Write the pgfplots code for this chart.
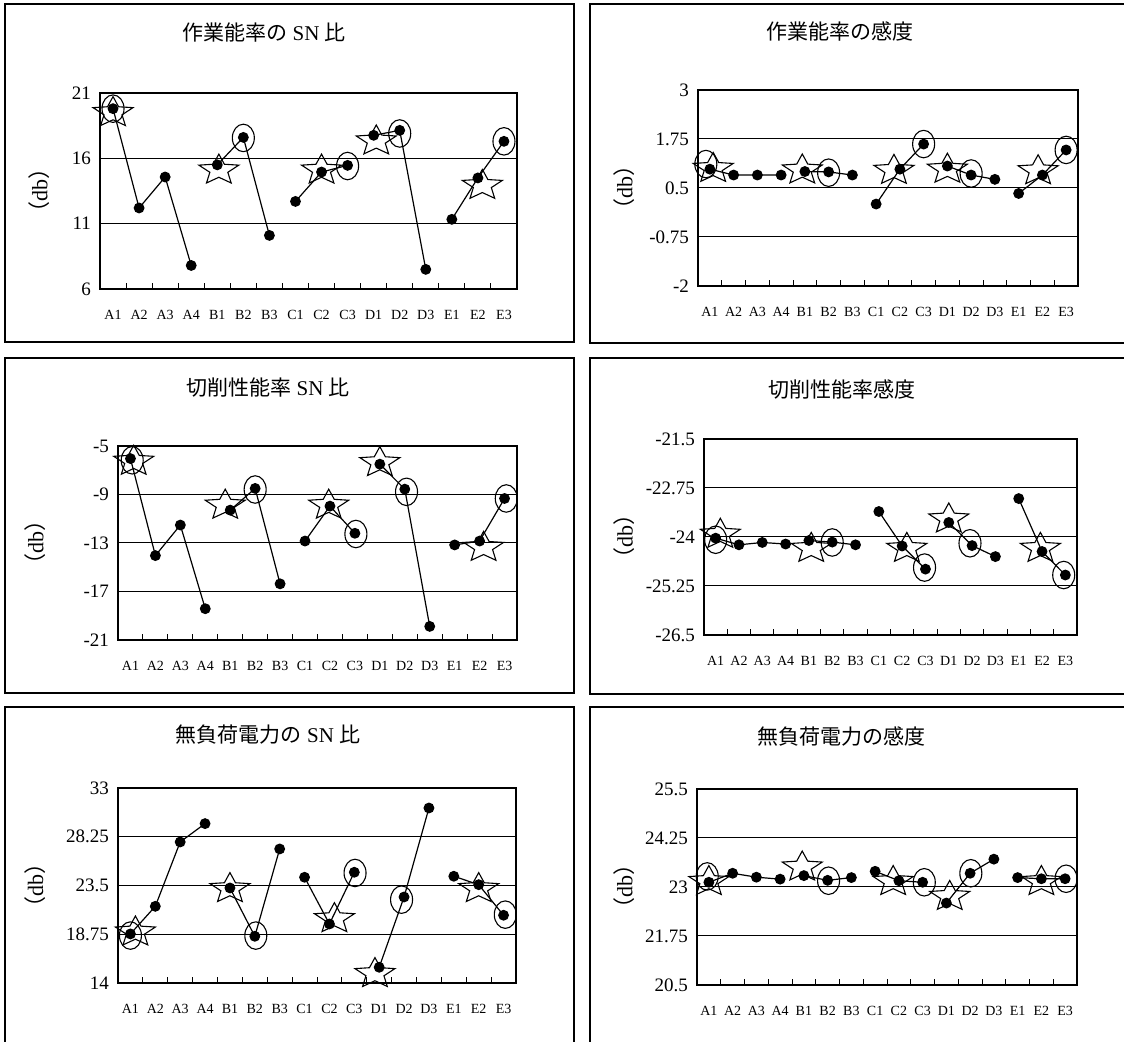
\documentclass[border=0pt]{standalone}
\usepackage{pgfplots}
\usepackage{pgfplotstable}
\pgfplotsset{compat=1.18}
\usepackage{fontspec}
\setmainfont{Liberation Serif}
\newfontfamily\cjk{Noto Sans CJK JP}

% open five-point star, flattened (x radius = mark size, y radius = 0.76 of it)
\pgfdeclareplotmark{ostar}{%
  \pgfpathmoveto{\pgfpoint{0pt}{0.76\pgfplotmarksize}}%
  \pgfpathlineto{\pgfpoint{-0.2645\pgfplotmarksize}{0.2774\pgfplotmarksize}}%
  \pgfpathlineto{\pgfpoint{-0.9511\pgfplotmarksize}{0.2348\pgfplotmarksize}}%
  \pgfpathlineto{\pgfpoint{-0.4280\pgfplotmarksize}{-0.1060\pgfplotmarksize}}%
  \pgfpathlineto{\pgfpoint{-0.5878\pgfplotmarksize}{-0.6148\pgfplotmarksize}}%
  \pgfpathlineto{\pgfpoint{0pt}{-0.343\pgfplotmarksize}}%
  \pgfpathlineto{\pgfpoint{0.5878\pgfplotmarksize}{-0.6148\pgfplotmarksize}}%
  \pgfpathlineto{\pgfpoint{0.4280\pgfplotmarksize}{-0.1060\pgfplotmarksize}}%
  \pgfpathlineto{\pgfpoint{0.9511\pgfplotmarksize}{0.2348\pgfplotmarksize}}%
  \pgfpathlineto{\pgfpoint{0.2645\pgfplotmarksize}{0.2774\pgfplotmarksize}}%
  \pgfpathclose
  \pgfusepathqstroke
}
% open ellipse, a bit taller than wide
\pgfdeclareplotmark{oell}{%
  \pgfpathellipse{\pgfpointorigin}{\pgfpoint{\pgfplotmarksize}{0pt}}{\pgfpoint{0pt}{1.25\pgfplotmarksize}}%
  \pgfusepathqstroke
}

% ticks sit between categories (x = -0.5, 0.5, ...); each label is moved
% half a category to the right so it stands under its point
\pgfplotsset{
  panel/.style={
    scale only axis, anchor=south west,
    xmin=-0.5, xmax=15.5,
    xtick={-0.5,0.5,...,14.5},
    xticklabels={A1,A2,A3,A4,B1,B2,B3,C1,C2,C3,D1,D2,D3,E1,E2,E3},
    major tick length=3pt,
    tick style={draw=black, line width=0.5pt},
    xtick pos=left, ytick pos=left,
    ymajorgrids, grid style={black, line width=0.5pt},
    axis line style={line width=0.6pt},
    xticklabel style={font=\fontsize{7}{8}\selectfont, yshift=-7pt},
    yticklabel style={font=\fontsize{9.5}{10}\selectfont, xshift=-1pt},
    ylabel={{\cjk （}db{\cjk ）}},
    label style={font=\fontsize{11}{12}\selectfont},
    clip=false,
  },
  dots/.style={black, line width=0.6pt, mark=*, mark size=2.4pt, unbounded coords=jump},
  stars/.style={black, only marks, mark=ostar, mark size=10.5pt, mark options={line width=0.55pt}},
  rings/.style={black, only marks, mark=oell, mark size=5.5pt, mark options={line width=0.55pt}},
}

\pgfplotstableread{
x y
0 19.8
1 12.2
2 14.57
3 7.8
3.5 nan
4 15.5
5 17.6
6 10.1
6.5 nan
7 12.7
8 14.95
9 15.46
9.5 nan
10 17.76
11 18.14
12 7.5
12.5 nan
13 11.33
14 14.5
15 17.3
}\sagyoSN

\pgfplotstableread{
x y
0 0.98
1 0.83
2 0.83
3 0.83
3.5 nan
4 0.92
5 0.91
6 0.83
6.5 nan
7 0.09
8 0.98
9 1.62
9.5 nan
10 1.06
11 0.83
12 0.72
12.5 nan
13 0.36
14 0.83
15 1.47
}\sagyoKan

\pgfplotstableread{
x y
0 -6.04
1 -14.04
2 -11.52
3 -18.42
3.5 nan
4 -10.29
5 -8.5
6 -16.37
6.5 nan
7 -12.84
8 -9.96
9 -12.2
9.5 nan
10 -6.5
11 -8.56
12 -19.88
12.5 nan
13 -13.16
14 -12.84
15 -9.33
}\sessakuSN

\pgfplotstableread{
x y
0 -24.03
1 -24.2
2 -24.14
3 -24.18
3.5 nan
4 -24.09
5 -24.13
6 -24.2
6.5 nan
7 -23.35
8 -24.23
9 -24.82
9.5 nan
10 -23.63
11 -24.22
12 -24.5
12.5 nan
13 -23.02
14 -24.37
15 -24.97
}\sessakuKan

\pgfplotstableread{
x y
0 18.78
1 21.47
2 27.74
3 29.53
3.5 nan
4 23.26
5 18.55
6 27.06
6.5 nan
7 24.3
8 19.75
9 24.79
9.5 nan
10 15.53
11 22.38
12 31.05
12.5 nan
13 24.4
14 23.58
15 20.6
}\denryokuSN

\pgfplotstableread{
x y
0 23.12
1 23.35
2 23.25
3 23.2
3.5 nan
4 23.29
5 23.17
6 23.24
6.5 nan
7 23.4
8 23.16
9 23.12
9.5 nan
10 22.59
11 23.35
12 23.71
12.5 nan
13 23.24
14 23.21
15 23.21
}\denryokuKan

\begin{document}
\begin{tikzpicture}
\useasboundingbox (0,0) rectangle (562pt,521pt);
% panel frames
\draw[line width=0.6pt] (2.5pt,350pt) rectangle (287pt,519pt);
\draw[line width=0.6pt] (295pt,349.5pt) rectangle (565pt,519pt);
\draw[line width=0.6pt] (2.5pt,174.5pt) rectangle (287pt,342pt);
\draw[line width=0.6pt] (295pt,174pt) rectangle (565pt,342pt);
\draw[line width=0.6pt] (2.5pt,-5pt) rectangle (287pt,167.5pt);
\draw[line width=0.6pt] (295pt,-5pt) rectangle (565pt,167.5pt);

% titles
\node[font=\fontsize{10.5}{12}\selectfont] at (132pt,504.5pt) {{\cjk 作業能率の} SN {\cjk 比}};
\node[font=\fontsize{10.5}{12}\selectfont] at (420pt,505pt) {\cjk 作業能率の感度};
\node[font=\fontsize{10.5}{12}\selectfont] at (134pt,327pt) {{\cjk 切削性能率} SN {\cjk 比}};
\node[font=\fontsize{10.5}{12}\selectfont] at (421pt,326pt) {\cjk 切削性能率感度};
\node[font=\fontsize{10.5}{12}\selectfont] at (134pt,153.5pt) {{\cjk 無負荷電力の} SN {\cjk 比}};
\node[font=\fontsize{10.5}{12}\selectfont] at (420.5pt,152.5pt) {\cjk 無負荷電力の感度};

% top left
\begin{axis}[panel, at={(50pt,376.5pt)}, width=208.5pt, height=98pt,
  xticklabel style={xshift=6.52pt},
  ymin=6, ymax=21, ytick={6,11,16,21}, yticklabels={6,11,16,21},
  ylabel style={at={(axis description cs:-0.146,0.5)}, anchor=center}]
\addplot[dots] table[x=x,y=y] {\sagyoSN};
\addplot[rings] coordinates {(0,19.8) (5,17.56) (9,15.41) (11,17.9) (15,17.3)};
\addplot[stars] coordinates {(0,19.5) (4.06,15.1) (8,15.1) (10.1,17.33) (14.17,13.93)};
\end{axis}

% top right
\begin{axis}[panel, at={(349pt,378pt)}, width=190pt, height=98pt,
  xticklabel style={xshift=5.94pt},
  ymin=-2, ymax=3, ytick={-2,-0.75,0.5,1.75,3}, yticklabels={-2,-0.75,0.5,1.75,3},
  ylabel style={at={(axis description cs:-0.195,0.5)}, anchor=center}]
\addplot[dots] table[x=x,y=y] {\sagyoKan};
\addplot[rings] coordinates {(-0.17,1.11) (5,0.89) (9,1.62) (11,0.87) (15,1.47)};
\addplot[stars] coordinates {(0.14,1.0) (3.89,0.96) (7.75,0.95) (10,0.98) (13.82,0.94)};
\end{axis}

% middle left
\begin{axis}[panel, at={(59pt,201pt)}, width=199.5pt, height=97pt,
  xticklabel style={xshift=6.23pt},
  ymin=-21, ymax=-5, ytick={-21,-17,-13,-9,-5}, yticklabels={-21,-17,-13,-9,-5},
  ylabel style={at={(axis description cs:-0.208,0.5)}, anchor=center}]
\addplot[dots] table[x=x,y=y] {\sessakuSN};
\addplot[rings] coordinates {(0.07,-6.18) (5,-8.59) (9.04,-12.26) (11.07,-8.78) (15.07,-9.33)};
\addplot[stars] coordinates {(0.13,-6.26) (3.8,-9.88) (7.95,-9.88) (10,-6.37) (14.16,-13.36)};
\end{axis}

% middle right
\begin{axis}[panel, at={(352pt,203.5pt)}, width=186.5pt, height=98pt,
  xticklabel style={xshift=5.83pt},
  ymin=-26.5, ymax=-21.5, ytick={-26.5,-25.25,-24,-22.75,-21.5},
  yticklabels={-26.5,-25.25,-24,-22.75,-21.5},
  ylabel style={at={(axis description cs:-0.214,0.5)}, anchor=center}]
\addplot[dots] table[x=x,y=y] {\sessakuKan};
\addplot[rings] coordinates {(0,-24.07) (5,-24.14) (8.96,-24.78) (10.91,-24.16) (14.93,-24.97)};
\addplot[stars] coordinates {(0.2,-23.93) (4.1,-24.29) (8.2,-24.29) (10,-23.54) (13.93,-24.29)};
\end{axis}

% bottom left
\begin{axis}[panel, at={(59pt,29.5pt)}, width=199pt, height=97.5pt,
  xticklabel style={xshift=6.22pt},
  ymin=14, ymax=33, ytick={14,18.75,23.5,28.25,33}, yticklabels={14,18.75,23.5,28.25,33},
  ylabel style={at={(axis description cs:-0.209,0.5)}, anchor=center}]
\addplot[dots] table[x=x,y=y] {\denryokuSN};
\addplot[rings] coordinates {(0,18.62) (5.04,18.62) (9.03,24.72) (10.9,22.12) (15.07,20.66)};
\addplot[stars] coordinates {(0.2,18.97) (4,23.2) (8.2,20.27) (9.83,14.92) (14,23.2)};
\end{axis}

% bottom right
\begin{axis}[panel, at={(348.5pt,28.5pt)}, width=190pt, height=98pt,
  xticklabel style={xshift=5.94pt},
  ymin=20.5, ymax=25.5, ytick={20.5,21.75,23,24.25,25.5},
  yticklabels={20.5,21.75,23,24.25,25.5},
  ylabel style={at={(axis description cs:-0.192,0.5)}, anchor=center}]
\addplot[dots] table[x=x,y=y] {\denryokuKan};
\addplot[rings] coordinates {(-0.07,23.27) (5.04,23.16) (9.07,23.12) (11.03,23.35) (15.04,23.21)};
\addplot[stars] coordinates {(0,23.14) (3.93,23.51) (7.76,23.14) (10.14,22.76) (14,23.14)};
\end{axis}
\end{tikzpicture}
\end{document}
